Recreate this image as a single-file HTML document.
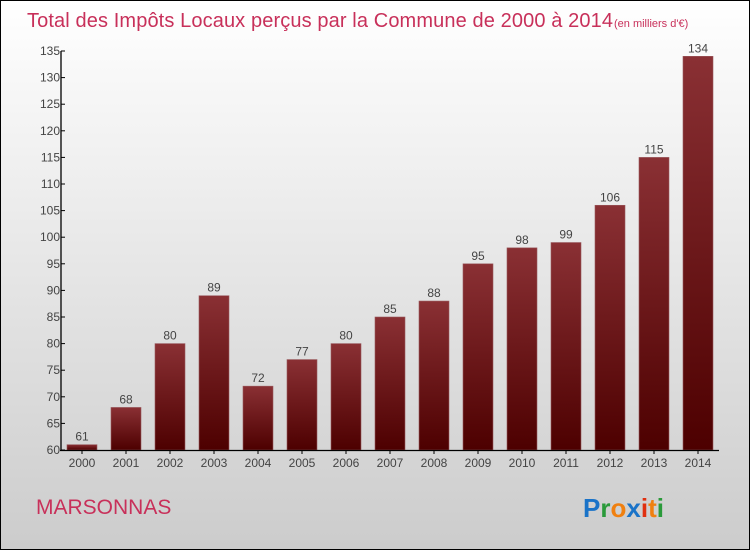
<!DOCTYPE html>
<html><head><meta charset="utf-8"><style>
body{margin:0}
#c{position:relative;width:748px;height:548px;border:1px solid #000;background:linear-gradient(#fff,#cccccc);overflow:hidden;font-family:"Liberation Sans",sans-serif}
</style></head><body>
<div id="c">
<svg width="748" height="548" style="position:absolute;left:0;top:0" id="svg">
<defs><linearGradient id="bg" x1="0" y1="0" x2="0" y2="1"><stop offset="0" stop-color="#8a3034"/><stop offset="1" stop-color="#4d0000"/></linearGradient></defs>
<text x="26" y="26" font-size="20" fill="#c8305a" textLength="586">Total des Impôts Locaux perçus par la Commune de 2000 à 2014</text>
<text x="613" y="26" font-size="11" fill="#c8305a">(en milliers d'€)</text>
<text x="35" y="513" font-size="21" fill="#c8305a">MARSONNAS</text>
<text x="582" y="516" font-size="26" font-weight="bold"><tspan fill="#1a73c8">P</tspan><tspan fill="#2a9a3a">r</tspan><tspan fill="#f08010">o</tspan><tspan fill="#1a73c8">x</tspan><tspan fill="#e03010">i</tspan><tspan fill="#f08010">t</tspan><tspan fill="#2a9a3a">i</tspan></text>
<g id="plot"></g>
</svg>
</div>
<script>
const years=["2000","2001","2002","2003","2004","2005","2006","2007","2008","2009","2010","2011","2012","2013","2014"];
const values=[61,68,80,89,72,77,80,85,88,95,98,99,106,115,134];
const yTicks=[60,65,70,75,80,85,90,95,100,105,110,115,120,125,130,135];
const ns="http://www.w3.org/2000/svg";
const g=document.getElementById("plot");
const y=v=>449-(v-60)*(449-50)/75;
const x=i=>81+44*i;
function mk(t,a,txt){const e=document.createElementNS(ns,t);for(const k in a)e.setAttribute(k,a[k]);if(txt!==undefined)e.textContent=txt;g.appendChild(e);return e;}
values.forEach((v,i)=>{
 const r=mk("rect",{x:x(i)-15,y:y(v),width:30,height:449-y(v),fill:"url(#bg)",stroke:"#9a5a5e","stroke-width":"0.6"});
 
 
 const t=mk("text",{x:x(i),y:y(v)-4,"text-anchor":"middle","font-size":"12",fill:"#444"},String(v));
 
 
 const xl=mk("text",{x:x(i),y:466,"text-anchor":"middle","font-size":"12",fill:"#444"},years[i]);
 
 
 mk("line",{x1:x(i),x2:x(i),y1:449,y2:453,stroke:"#000"});
});
yTicks.forEach(v=>{
 mk("line",{x1:60,x2:64,y1:y(v),y2:y(v),stroke:"#000"});
 const t=mk("text",{x:59,y:y(v)+4,"text-anchor":"end","font-size":"12",fill:"#444"},String(v));
 
 
});
const ya=mk("line",{x1:60,x2:60,y1:50,y2:450,stroke:"#000","stroke-width":"1.3"});


const xa=mk("line",{x1:59,x2:718,y1:449.5,y2:449.5,stroke:"#000","stroke-width":"1.3"});


</script>
</body></html>
